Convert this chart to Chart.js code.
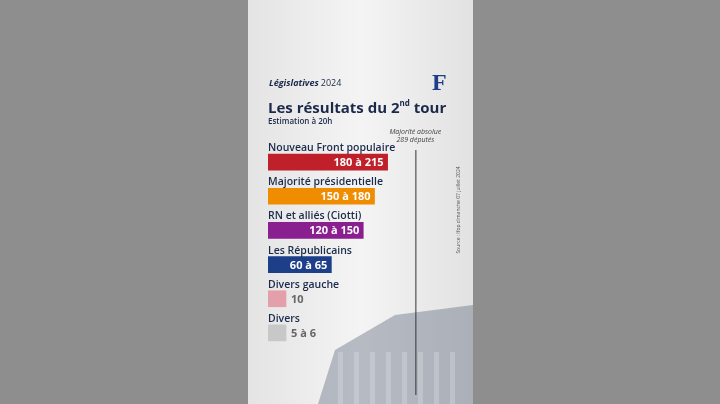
<!DOCTYPE html><html><head><meta charset="utf-8">
<script src="https://cdn.jsdelivr.net/npm/chart.js@4/dist/chart.umd.min.js"></script>
<style>html,body{margin:0;padding:0;background:#8c8c8c;}#w{position:absolute;left:0;top:0;width:720px;height:404px}</style></head><body>
<div id="w"><canvas id="c"></canvas></div>
<script>
const categories=["Nouveau Front populaire","Majorité présidentielle","RN et alliés (Ciotti)","Les Républicains","Divers gauche","Divers"];
const lowValues=[180,150,120,60,10,5];
const highValues=[215,180,150,65,10,6];
const valueLabels=["180 à 215","150 à 180","120 à 150","60 à 65","10","5 à 6"];
const colors=["#c0202a","#f08c00","#8a1f8f","#1d3f8a","#e3a0aa","#c8c8c8"];
const majority=289;
const AXMIN=-104, AXMAX=320, PX=0.375;
const F="'Open Sans', sans-serif";
const deco={id:'deco',
beforeDraw(ch){const c=ch.ctx;c.save();
c.fillStyle='#8e8e8e';c.fillRect(0,0,720,404);
const g=c.createLinearGradient(248,0,473,0);g.addColorStop(0,'#e4e4e4');g.addColorStop(0.5,'#f4f4f4');g.addColorStop(1,'#e2e2e2');
c.fillStyle=g;c.fillRect(248,0,225,404);
c.fillStyle='rgba(90,100,120,0.4)';c.beginPath();c.moveTo(318,404);c.lineTo(335,350);c.lineTo(395,315);c.lineTo(473,305);c.lineTo(473,404);c.fill();
c.fillStyle='rgba(220,225,230,0.35)';for(let i=0;i<8;i++){c.fillRect(338+i*16,352,5,52);}
c.fillStyle='#1b2a4a';c.textBaseline='alphabetic';c.font="bold italic 9px "+F;c.fillText('Législatives',269,86);
let lw=c.measureText('Législatives').width;c.font="9px "+F;c.fillText('2024',269+lw+2,86);
c.font="bold 15px "+F;c.fillText('Les résultats du 2',268,113);
let w=c.measureText('Les résultats du 2').width;c.font="bold 8px "+F;c.fillText('nd',268+w,106);
let w2=c.measureText('nd').width;c.font="bold 15px "+F;c.fillText(' tour',268+w+w2,113);
c.font="600 8px "+F;c.fillText('Estimation à 20h',268,124);
c.font="bold 24px serif";c.fillStyle='#1d3f8a';c.fillText('F',432,90);
c.restore();},
afterDatasetsDraw(ch){const c=ch.ctx,x=ch.scales.x;c.save();
const mx=x.getPixelForValue(majority);
c.strokeStyle='#333';c.lineWidth=1;c.beginPath();c.moveTo(mx+0.5,150);c.lineTo(mx+0.5,395);c.stroke();
c.fillStyle='#444';c.font="italic 7px "+F;c.textAlign='center';c.fillText('Majorité absolue',mx,134);c.fillText('289 députés',mx,142);
c.save();c.translate(460,210);c.rotate(-Math.PI/2);c.font="5px "+F;c.fillStyle='#555';c.fillText('Source : Ifop dimanche 07 juillet 2024',0,0);c.restore();
const m=ch.getDatasetMeta(0);
categories.forEach((cat,i)=>{const b=m.data[i];
c.textAlign='left';c.fillStyle='#1b2a4a';c.font="600 10.5px "+F;c.fillText(cat,268,b.y-11);
c.font="bold 11px "+F;
if(i<4){c.fillStyle='#fff';c.textAlign='right';c.fillText(valueLabels[i],b.x-4,b.y+4);}
else{c.fillStyle='#666';c.textAlign='left';c.fillText(valueLabels[i],b.x+5,b.y+4);}
});
c.restore();}};
new Chart(document.getElementById('c'),{type:'bar',
data:{labels:categories,datasets:[{data:highValues.map((h,i)=>i>=4?AXMIN+18/PX:h),base:AXMIN,backgroundColor:colors,barThickness:16}]},
options:{indexAxis:'y',responsive:true,maintainAspectRatio:false,animation:false,
layout:{padding:{left:268,right:720-268-Math.round((AXMAX-AXMIN)*PX),top:145,bottom:404-350}},
scales:{x:{display:false,min:AXMIN,max:AXMAX},y:{display:false}},
plugins:{legend:{display:false},tooltip:{enabled:false}}},plugins:[deco]});
</script></body></html>
